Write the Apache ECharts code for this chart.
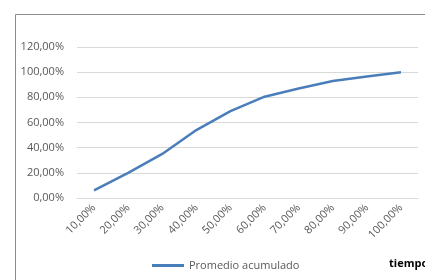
<!DOCTYPE html>
<html>
<head>
<meta charset="utf-8">
<script src="https://cdn.jsdelivr.net/npm/echarts@6/dist/echarts.min.js"></script>
<style>
  html, body { margin: 0; padding: 0; background: #fff; }
  #chart { width: 425px; height: 280px; }
</style>
</head>
<body>
<div id="chart"></div>
<script>
// categorias (eje x)
const categorias = ['10,00%', '20,00%', '30,00%', '40,00%', '50,00%', '60,00%', '70,00%', '80,00%', '90,00%', '100,00%']
// promedio acumulado en %
const promedio = [6, 20, 35, 54, 69, 80.5, 87, 93, 96.5, 100]
const serieNombre = 'Promedio acumulado'
const ejeNombre = 'tiempo'

const myChart = echarts.init(document.getElementById('chart'))
const fuente = '"Open Sans", "Liberation Sans", sans-serif'

const option = {
  animation: false,
  textStyle: { fontFamily: fuente },
  graphic: [
    {
      type: 'rect',
      left: 13,
      top: 12,
      shape: { width: 440, height: 300 },
      style: { fill: 'none', stroke: '#8c8c8c', lineWidth: 1 }
    },
    {
      type: 'text',
      left: 389,
      top: 258,
      style: { text: ejeNombre, fill: '#000', font: 'bold 11px ' + fuente }
    }
  ],
  grid: { left: 77, right: 7, top: 47, bottom: 82 },
  legend: {
    data: [serieNombre],
    left: 147,
    top: 255,
    icon: 'rect',
    itemWidth: 32,
    itemHeight: 3,
    itemGap: 4,
    textStyle: { color: '#595959', fontSize: 11, fontFamily: fuente }
  },
  xAxis: {
    type: 'category',
    data: categorias,
    boundaryGap: true,
    axisLine: { show: true, lineStyle: { color: '#d9d9d9' } },
    axisTick: { show: false },
    axisLabel: { rotate: 45, color: '#595959', fontSize: 11, margin: 8, interval: 0 }
  },
  yAxis: {
    type: 'value',
    min: 0,
    max: 120,
    interval: 20,
    axisLine: { show: false },
    axisTick: { show: false },
    splitLine: { lineStyle: { color: '#d9d9d9', width: 1 } },
    axisLabel: {
      color: '#595959',
      fontSize: 11,
      margin: 13,
      formatter: function (v) { return v.toFixed(2).replace('.', ',') + '%' }
    }
  },
  series: [
    {
      name: serieNombre,
      type: 'line',
      data: promedio,
      symbol: 'none',
      lineStyle: { color: '#4a7ebb', width: 2.5 },
      itemStyle: { color: '#4a7ebb' }
    }
  ]
}

myChart.setOption(option)
</script>
</body>
</html>
